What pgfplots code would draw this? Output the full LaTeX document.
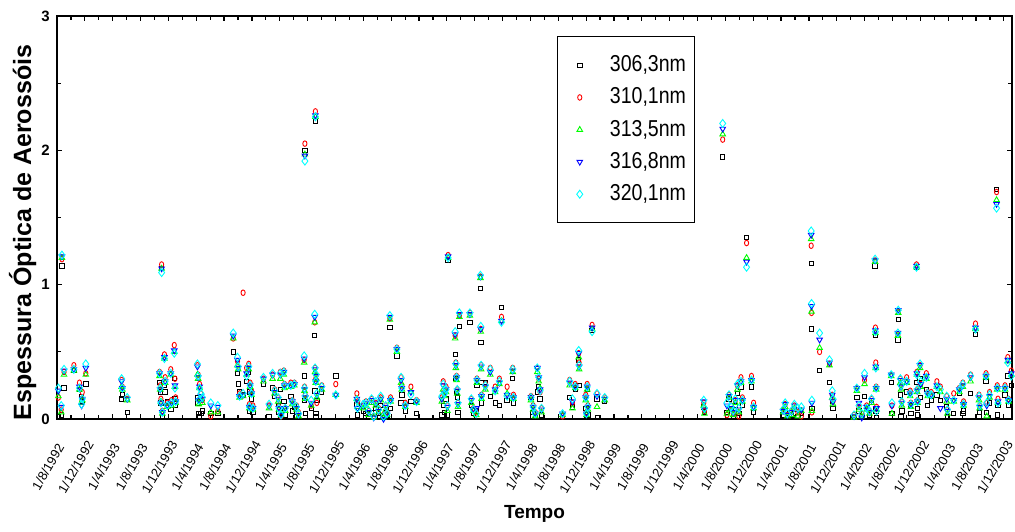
\documentclass[border=0pt]{standalone}
\usepackage{fontspec}
\setmainfont{Liberation Sans}
\newfontfamily\legfont[FakeStretch=0.85]{Liberation Sans}
\usepackage{pgfplots}
\usepackage{pgfplotstable}
\pgfplotsset{compat=1.18}
\definecolor{pgreen}{rgb}{0,1,0}
\definecolor{pcyan}{rgb}{0,1,1}
\definecolor{pblue}{rgb}{0,0,1}
\definecolor{pred}{rgb}{1,0,0}
\pgfplotstableread{
m b r g bl c
0.2 0.02 0.16 0.17 0.21 0.23
0.6 0.03 0.07 0.05 0.09 0.10
0.7 1.14 1.19 1.20 1.21 1.22
1.0 0.23 0.35 0.33 0.36 0.37
2.4 0.36 0.40 0.36 0.37 0.37
3.2 0.22 0.27 0.22 0.24 0.23
3.5 0.17 0.15 0.12 0.10 0.11
3.6 0.13 0.20 0.14 0.15 0.15
4.1 0.26 0.34 0.33 0.38 0.41
9.2 0.15 0.29 0.24 0.28 0.30
9.3 0.18 0.24 0.22 0.23 0.23
10.0 0.05 0.15 0.14 0.15 0.16
14.9 1.12 1.15 1.12 1.12 1.09
14.6 0.27 0.35 0.32 0.34 0.34
14.7 0.20 0.25 0.22 0.22 0.23
14.8 0.12 0.15 0.13 0.12 0.12
15.0 0.02 0.06 0.04 0.05 0.05
15.3 0.25 0.48 0.45 0.46 0.45
15.4 0.20 0.31 0.27 0.28 0.28
15.7 0.13 0.12 0.09 0.10 0.10
16.2 0.07 0.37 0.33 0.34 0.34
16.3 0.10 0.14 0.10 0.12 0.12
16.7 0.30 0.55 0.50 0.51 0.49
16.8 0.15 0.30 0.24 0.25 0.23
16.9 0.10 0.16 0.12 0.13 0.13
20.0 0.16 0.40 0.33 0.39 0.41
20.1 0.12 0.33 0.30 0.31 0.32
20.2 0.04 0.14 0.11 0.14 0.14
20.3 0.02 0.26 0.23 0.24 0.23
20.5 0.04 0.19 0.15 0.17 0.19
20.7 0.06 0.14 0.12 0.15 0.16
21.9 0.04 0.02 0.05 0.10 0.12
22.9 0.04 0.06 0.05 0.09 0.10
25.1 0.50 0.60 0.60 0.62 0.64
25.7 0.34 0.43 0.40 0.44 0.46
25.8 0.26 0.39 0.37 0.38 0.39
26.0 0.20 0.19 0.16 0.17 0.17
26.5 0.18 0.94 0.17 0.18 0.19
27.3 0.35 0.41 0.37 0.38 0.39
27.4 0.06 0.11 0.08 0.09 0.09
27.0 0.28 0.38 0.33 0.34 0.32
27.5 0.20 0.27 0.24 0.25 0.25
27.7 0.15 0.21 0.18 0.19 0.19
27.9 0.05 0.10 0.07 0.08 0.08
29.4 0.26 0.30 0.28 0.30 0.31
30.2 0.02 0.10 0.08 0.10 0.11
30.7 0.23 0.33 0.30 0.33 0.34
31.0 0.17 0.22 0.19 0.20 0.21
31.5 0.10 0.16 0.13 0.15 0.16
31.6 0.05 0.09 0.07 0.08 0.08
31.8 0.22 0.35 0.30 0.33 0.34
31.9 0.01 0.02 0.03 0.03 0.03
32.3 0.13 0.36 0.33 0.35 0.35
32.4 0.08 0.26 0.23 0.25 0.25
32.5 0.03 0.08 0.06 0.08 0.08
33.3 0.17 0.27 0.24 0.25 0.25
33.5 0.06 0.14 0.11 0.13 0.13
33.8 0.09 0.27 0.25 0.26 0.26
34.1 0.02 0.10 0.07 0.08 0.09
34.4 0.01 0.05 0.02 0.03 0.04
35.2 0.32 0.44 0.42 0.45 0.47
35.25 0.14 0.24 0.21 0.22 0.23
35.3 2.00 2.05 1.97 1.96 1.92
35.35 0.04 0.18 0.15 0.16 0.17
36.2 0.08 0.10 0.10 0.12 0.14
36.7 0.62 0.72 0.72 0.76 0.78
36.75 0.21 0.38 0.35 0.37 0.38
36.8 2.22 2.29 2.25 2.26 2.25
36.85 0.04 0.30 0.27 0.28 0.28
36.9 0.02 0.33 0.30 0.32 0.33
37.0 0.14 0.12 0.16 0.18 0.19
37.7 0.20 0.25 0.22 0.23 0.24
39.7 0.32 0.26 0.18 0.18 0.18
42.7 0.11 0.19 0.15 0.15 0.14
42.8 0.03 0.13 0.09 0.08 0.08
43.6 0.06 0.10 0.08 0.10 0.11
44.0 0.04 0.13 0.10 0.12 0.12
44.4 0.02 0.06 0.03 0.05 0.06
44.8 0.05 0.15 0.12 0.14 0.15
45.1 0.01 0.02 0.01 0.01 0.02
45.4 0.08 0.12 0.10 0.12 0.13
45.8 0.04 0.08 0.05 0.06 0.07
46.1 0.10 0.16 0.14 0.15 0.17
46.5 0.01 0.03 0.01 0.00 0.02
46.8 0.05 0.10 0.07 0.09 0.10
47.0 0.03 0.05 0.03 0.04 0.04
47.4 0.68 0.75 0.74 0.76 0.77
47.5 0.08 0.16 0.13 0.14 0.14
48.4 0.47 0.53 0.50 0.52 0.52
49.0 0.12 0.31 0.27 0.29 0.31
49.1 0.18 0.25 0.22 0.23 0.23
49.6 0.06 0.12 0.09 0.10 0.10
50.4 0.13 0.24 0.20 0.20 0.18
51.2 0.04 0.14 0.12 0.13 0.13
54.8 0.03 0.16 0.13 0.15 0.17
55.7 1.18 1.22 1.20 1.21 1.20
55.0 0.10 0.28 0.22 0.25 0.26
55.2 0.05 0.20 0.17 0.19 0.19
55.4 0.15 0.24 0.20 0.22 0.22
55.6 0.03 0.10 0.06 0.09 0.10
56.7 0.48 0.62 0.60 0.63 0.65
56.8 0.30 0.42 0.38 0.40 0.41
56.9 0.20 0.32 0.29 0.31 0.31
57.0 0.16 0.22 0.19 0.21 0.22
57.1 0.05 0.12 0.09 0.11 0.12
57.3 0.69 0.77 0.76 0.78 0.79
58.8 0.72 0.79 0.77 0.78 0.79
59.0 0.10 0.15 0.12 0.14 0.15
59.3 0.04 0.08 0.06 0.07 0.07
59.7 0.06 0.05 0.03 0.08 0.04
59.8 0.25 0.30 0.27 0.29 0.29
60.3 0.97 1.06 1.05 1.06 1.07
60.35 0.57 0.67 0.65 0.67 0.69
60.4 0.27 0.40 0.37 0.39 0.40
60.45 0.12 0.18 0.15 0.17 0.17
61.0 0.27 0.26 0.22 0.24 0.25
61.7 0.17 0.38 0.33 0.35 0.37
62.4 0.12 0.24 0.20 0.22 0.21
63.0 0.10 0.30 0.26 0.27 0.28
63.3 0.83 0.76 0.73 0.73 0.72
64.1 0.14 0.24 0.19 0.18 0.17
64.9 0.30 0.38 0.35 0.36 0.37
65.0 0.12 0.18 0.15 0.16 0.16
67.5 0.16 0.17 0.14 0.16 0.16
67.8 0.05 0.10 0.07 0.09 0.09
68.1 0.02 0.05 0.02 0.04 0.04
68.4 0.20 0.38 0.35 0.38 0.38
68.6 0.24 0.30 0.28 0.31 0.31
68.8 0.15 0.20 0.23 0.22 0.21
69.0 0.03 0.08 0.05 0.07 0.08
72.0 0.01 0.02 0.03 0.04 0.04
73.0 0.16 0.29 0.25 0.27 0.28
73.4 0.09 0.12 0.08 0.13 0.15
73.8 0.22 0.26 0.23 0.24 0.24
74.3 0.44 0.49 0.46 0.49 0.51
74.35 0.25 0.42 0.37 0.39 0.40
75.3 0.08 0.18 0.14 0.16 0.16
75.4 0.02 0.05 0.03 0.04 0.04
75.5 0.22 0.26 0.22 0.24 0.24
75.6 0.03 0.10 0.07 0.09 0.09
76.2 0.66 0.70 0.67 0.68 0.65
76.9 0.15 0.19 0.09 0.17 0.19
77.0 0.01 nan nan nan nan
78.0 0.13 0.16 0.14 0.15 0.16
92.1 0.09 0.12 0.10 0.13 0.14
92.2 0.05 0.06 0.04 0.07 0.08
94.8 1.95 2.08 2.12 2.16 2.20
95.4 0.05 0.03 0.04 0.10 0.12
95.7 0.15 0.18 0.16 0.17 0.18
96.0 0.08 0.10 0.07 0.08 0.09
96.3 0.02 0.04 0.03 0.05 0.06
96.6 0.10 0.14 0.12 0.14 0.15
96.9 0.19 0.25 0.22 0.25 0.26
97.1 0.04 0.02 0.05 0.07 0.08
97.4 0.24 0.31 0.27 0.28 0.28
97.6 0.10 0.16 0.13 0.14 0.14
98.2 1.35 1.31 1.20 1.17 1.13
98.9 0.24 0.32 0.28 0.29 0.29
99.2 0.05 0.12 0.08 0.09 0.09
103.4 0.03 0.07 0.05 0.06 0.07
103.7 0.06 0.11 0.09 0.11 0.12
104.0 0.01 0.03 0.02 0.03 0.04
104.6 0.03 0.06 0.03 0.05 0.06
105.0 0.07 0.10 0.08 0.10 0.11
105.5 0.02 0.05 0.02 0.07 0.08
106.0 0.04 0.02 0.06 0.07 0.09
107.4 1.16 1.29 1.34 1.37 1.40
107.45 0.67 0.79 0.80 0.84 0.86
107.5 0.08 0.05 0.06 0.12 0.14
108.6 0.36 0.50 0.53 0.59 0.64
110.0 0.27 0.41 0.40 0.42 0.44
110.4 0.13 0.18 0.16 0.18 0.21
110.5 0.08 0.13 0.11 0.13 0.15
113.5 0.01 0.03 0.01 0.02 0.03
113.9 0.16 0.23 0.21 0.23 0.23
114.2 0.06 0.09 0.07 0.12 0.10
114.6 0.02 0.04 0.02 0.01 0.04
115.0 0.17 0.29 0.26 0.31 0.34
115.3 0.08 0.10 0.07 0.09 0.08
115.7 0.03 0.06 0.04 0.05 0.06
116.0 0.14 0.15 0.12 0.14 0.15
116.5 1.14 1.18 1.17 1.18 1.19
116.55 0.62 0.68 0.64 0.66 0.65
116.6 0.06 0.42 0.38 0.39 0.38
116.65 0.08 0.24 0.22 0.23 0.23
116.7 0.01 0.09 0.07 0.08 0.06
118.8 0.27 0.33 0.32 0.33 0.33
118.9 0.04 0.10 0.04 0.10 0.12
119.75 0.59 0.63 0.62 0.64 0.64
119.8 0.74 0.80 0.79 0.81 0.81
120.1 0.18 0.30 0.27 0.29 0.30
120.2 0.02 0.25 0.22 0.24 0.25
120.3 0.06 0.13 0.10 0.12 0.13
121.0 0.20 0.31 0.27 0.28 0.28
121.5 0.10 0.21 0.17 0.19 0.19
121.6 0.04 0.12 0.09 0.11 0.11
122.4 1.13 1.15 1.13 1.14 1.13
122.45 0.27 0.35 0.33 0.34 0.33
122.5 0.08 0.22 0.20 0.21 0.22
122.55 0.03 0.14 0.12 0.13 0.13
122.9 0.30 0.40 0.38 0.40 0.41
123.0 0.16 0.26 0.24 0.26 0.28
123.8 0.22 0.34 0.30 0.32 0.31
124.0 0.10 0.20 0.17 0.19 0.19
124.5 0.14 0.20 0.17 0.18 0.18
125.3 0.18 0.28 0.24 0.25 0.24
125.8 0.14 0.24 0.20 0.08 0.22
126.7 0.09 0.17 0.13 0.15 0.17
126.8 0.02 0.07 0.04 0.06 0.07
127.7 0.04 0.19 0.13 0.14 0.14
128.5 0.19 0.23 0.20 0.22 0.22
129.0 0.04 0.27 0.24 0.25 0.26
129.1 0.06 0.13 0.10 0.11 0.11
130.1 0.19 0.33 0.28 0.31 0.32
130.8 0.63 0.71 0.67 0.68 0.67
131.3 0.02 0.18 0.14 0.16 0.17
131.4 0.05 0.10 0.08 0.09 0.10
132.3 0.28 0.34 0.31 0.32 0.32
132.4 0.05 0.12 0.02 0.10 0.12
132.8 0.12 0.20 0.16 0.17 0.18
133.8 1.71 1.69 1.63 1.60 1.57
133.9 0.03 0.25 0.22 0.23 0.23
134.0 0.10 0.15 0.12 0.13 0.12
135.0 0.18 0.25 0.22 0.23 0.23
135.4 0.32 0.46 0.43 0.44 0.42
135.5 0.10 0.15 0.13 0.14 0.14
135.9 0.25 0.36 0.33 0.34 0.32
}\aod

\begin{document}
\begin{tikzpicture}
\useasboundingbox (-28.5pt,-56pt) rectangle (479pt,209.5pt);
\begin{axis}[
  scale only axis, width=477.5pt, height=201.5pt,
  xmin=0, xmax=136, ymin=0, ymax=3,
  clip=false,
  line width=0.6pt,
  xtick={0,3.966,...,135},
  xticklabels={1/8/1992,1/12/1992,1/4/1993,1/8/1993,1/12/1993,1/4/1994,1/8/1994,1/12/1994,1/4/1995,1/8/1995,1/12/1995,1/4/1996,1/8/1996,1/12/1996,1/4/1997,1/8/1997,1/12/1997,1/4/1998,1/8/1998,1/12/1998,1/4/1999,1/8/1999,1/12/1999,1/4/2000,1/8/2000,1/12/2000,1/4/2001,1/8/2001,1/12/2001,1/4/2002,1/8/2002,1/12/2002,1/4/2003,1/8/2003,1/12/2003},
  minor x tick num=1,
  ytick={0,1,2,3}, minor y tick num=1,
  tick align=inside,
  major tick length=2.5pt, minor tick length=2pt,
  tick style={line width=0.6pt, black},
  /pgf/number format/assume math mode=true,
  xticklabel style={font=\fontsize{6.5}{7.5}\selectfont, xshift=-4.5pt, yshift=-24pt, rotate=60, anchor=center},
  yticklabel style={font=\bfseries\fontsize{7.5}{9}\selectfont},
  xlabel={Tempo},
  xlabel style={at={(axis description cs:0.5,-0.2357)}, anchor=center, font=\bfseries\fontsize{9.5}{11}\selectfont},
  ylabel={Espessura Óptica de Aerossóis},
  ylabel style={at={(axis description cs:-0.0272,0.463)}, anchor=base, font=\bfseries\fontsize{12.5}{14}\selectfont},
  legend style={at={(axis description cs:0.5236,0.950)}, anchor=north west, draw=black, line width=0.5pt, inner xsep=2pt, inner ysep=7.5pt, row sep=2.6pt, font=\legfont\fontsize{11.5}{13}\selectfont, cells={anchor=west}},
  legend image code/.code={\path[draw=none,fill=none] (0cm,-0.5pt) rectangle (0.78cm,0.5pt); \draw[#1] plot coordinates {(0.32cm,0cm)};},
]
\addplot[only marks, black, mark=square, mark size=1.1pt, line width=0.45pt] table[x=m,y=b]{\aod};
\addlegendentry{306,3nm}
\addplot[only marks, pred, mark=o, mark size=1.4pt, mark options={xscale=0.75}, line width=0.45pt] table[x=m,y=r]{\aod};
\addlegendentry{310,1nm}
\addplot[only marks, pgreen, mark=triangle, mark size=1.6pt, line width=0.45pt] table[x=m,y=g]{\aod};
\addlegendentry{313,5nm}
\addplot[only marks, pblue, mark=triangle, mark size=1.6pt, mark options={rotate=180}, line width=0.45pt] table[x=m,y=bl]{\aod};
\addlegendentry{316,8nm}
\addplot[only marks, pcyan, mark=diamond, mark size=2pt, line width=0.45pt] table[x=m,y=c]{\aod};
\addlegendentry{320,1nm}
\end{axis}
\end{tikzpicture}
\end{document}
